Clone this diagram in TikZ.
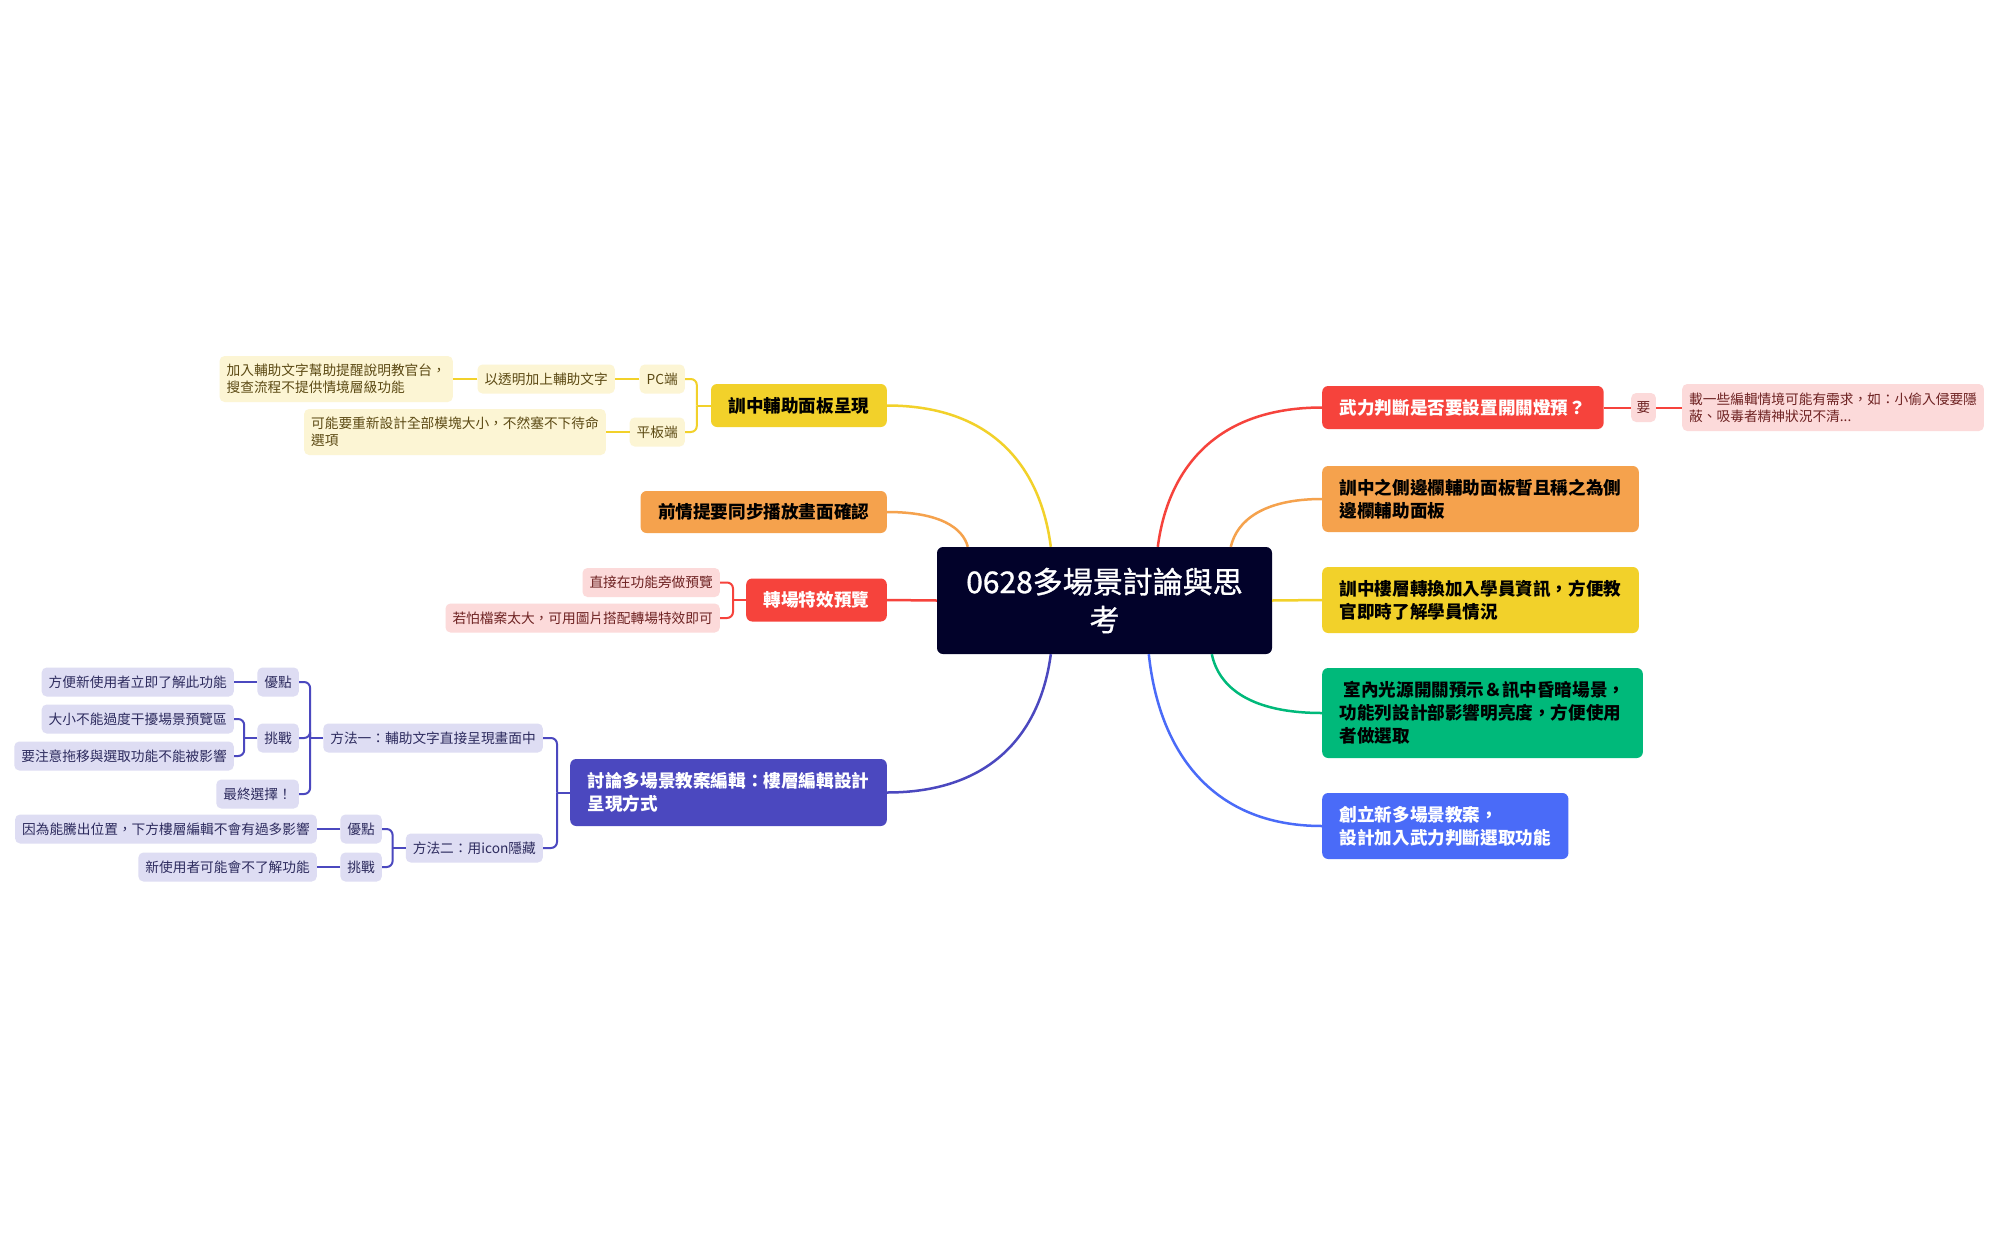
\documentclass[tikz,border=0pt]{standalone}
\usepackage{fontspec}
\setmainfont{Noto Sans CJK TC}
\newfontfamily\centerfont{Noto Sans CJK TC}[FakeBold=1]
\usetikzlibrary{calc}
\definecolor{cdark}{HTML}{02022A}
\definecolor{cred}{HTML}{F6433C}
\definecolor{corange}{HTML}{F5A24D}
\definecolor{cyel}{HTML}{F2D12A}
\definecolor{cgreen}{HTML}{00B97A}
\definecolor{cblue}{HTML}{4A6BF8}
\definecolor{cpur}{HTML}{4B48BF}
\definecolor{lyel}{HTML}{FCF5D4}
\definecolor{lred}{HTML}{FCDADA}
\definecolor{lpur}{HTML}{DEDDF3}
\definecolor{tyel}{HTML}{5C4A14}
\definecolor{tred}{HTML}{6E2222}
\definecolor{tpur}{HTML}{2D2B5E}
\begin{document}
\begin{tikzpicture}[x=1pt,y=-1pt,
  mainbox/.style={rounded corners=6pt, inner xsep=17.5pt, inner ysep=0pt, font=\fontsize{17.6}{23}\selectfont\bfseries, align=left},
  subbox/.style={rounded corners=5pt, inner xsep=7pt, inner ysep=0pt, minimum height=29pt, font=\fontsize{13.7}{17}\selectfont, align=left},
  ysub/.style={subbox, fill=lyel, text=tyel},
  rsub/.style={subbox, fill=lred, text=tred},
  psub/.style={subbox, fill=lpur, text=tpur},
  curve/.style={line width=2.5pt},
  yline/.style={line width=2pt, draw=cyel},
  rline/.style={line width=2pt, draw=cred},
  pline/.style={line width=2pt, draw=cpur},
  brk/.style={rounded corners=6pt}
]
\fill[white] (0,0) rectangle (1999,1237);
\useasboundingbox (0,0) rectangle (1999,1237);

% center
\node[fill=cdark, rounded corners=6pt, minimum width=335pt, minimum height=107pt, inner sep=0pt,
  text=white, align=center, font=\fontsize{30}{38}\centerfont] (c) at (1104.5,600.5) {0628多場景討論與思\\考};

% ---------- left side ----------
\node[mainbox, fill=cyel, anchor=east, minimum height=43pt] (ly) at (887,405.5) {訓中輔助面板呈現};
\node[ysub, anchor=east] (ly1) at (685,379) {PC端};
\node[ysub, anchor=east] (ly2) at (615,379) {以透明加上輔助文字};
\node[ysub, anchor=east, minimum height=46pt] (ly3) at (453,379) {加入輔助文字幫助提醒說明教官台，\\搜查流程不提供情境層級功能};
\node[ysub, anchor=east] (ly4) at (685,432) {平板端};
\node[ysub, anchor=east, minimum height=46pt] (ly5) at (606,432) {可能要重新設計全部模塊大小，不然塞不下待命\\選項};

\node[mainbox, fill=corange, anchor=east, minimum height=42pt] (lo) at (887,512) {前情提要同步播放畫面確認};

\node[mainbox, fill=cred, text=white, anchor=east, minimum height=43pt] (lr) at (887,600) {轉場特效預覽};
\node[rsub, anchor=east] (lr1) at (720,582.5) {直接在功能旁做預覽};
\node[rsub, anchor=east] (lr2) at (720,618) {若怕檔案太大，可用圖片搭配轉場特效即可};

\node[mainbox, fill=cpur, text=white, anchor=east, minimum height=67pt] (lp) at (887,792.5) {討論多場景教案編輯：樓層編輯設計\\呈現方式};
\node[psub, anchor=east] (m1) at (543,738) {方法一：輔助文字直接呈現畫面中};
\node[psub, anchor=east] (m2) at (543,848) {方法二：用icon隱藏};
\node[psub, anchor=east] (a1) at (299,682) {優點};
\node[psub, anchor=east] (a2) at (299,738) {挑戰};
\node[psub, anchor=east] (a3) at (299,794) {最終選擇！};
\node[psub, anchor=east] (t1) at (234,682) {方便新使用者立即了解此功能};
\node[psub, anchor=east] (t2) at (234,719) {大小不能過度干擾場景預覽區};
\node[psub, anchor=east] (t3) at (234,756) {要注意拖移與選取功能不能被影響};
\node[psub, anchor=east] (b1) at (382,829) {優點};
\node[psub, anchor=east] (b2) at (382,867) {挑戰};
\node[psub, anchor=east] (u1) at (317,829) {因為能騰出位置，下方樓層編輯不會有過多影響};
\node[psub, anchor=east] (u2) at (317,867) {新使用者可能會不了解功能};

% ---------- right side ----------
\node[mainbox, fill=cred, text=white, anchor=west, minimum height=43pt] (rr) at (1322,407.5) {武力判斷是否要設置開關燈預？};
\node[rsub, anchor=west, inner xsep=5.5pt] (rr1) at (1631,407.5) {要};
\node[rsub, anchor=west, minimum height=47pt] (rr2) at (1682,407.5) {載一些編輯情境可能有需求，如：小偷入侵要隱\\蔽、吸毒者精神狀況不清...};

\node[mainbox, fill=corange, anchor=west, minimum height=66pt] (ro) at (1322,499) {訓中之側邊欄輔助面板暫且稱之為側\\邊欄輔助面板};
\node[mainbox, fill=cyel, anchor=west, minimum height=66pt] (ry) at (1322,600) {訓中樓層轉換加入學員資訊，方便教\\官即時了解學員情況};
\node[mainbox, fill=cgreen, anchor=west, minimum height=90pt] (rg) at (1322,713) {\ 室內光源開關預示＆訊中昏暗場景，\\功能列設計部影響明亮度，方便使用\\者做選取};
\node[mainbox, fill=cblue, text=white, anchor=west, minimum height=66pt] (rb) at (1322,826) {創立新多場景教案，\\設計加入武力判斷選取功能};

% ---------- main curves ----------
\draw[curve, cred] ($(c.north west)+(221,0)$) .. controls +(10,-77) and +(-107,0) .. (rr.west);
\draw[curve, corange] ($(c.north west)+(294,0)$) .. controls +(6,-26) and +(-59,0) .. (ro.west);
\draw[curve, cyel] (c.east) -- (ry.west);
\draw[curve, cgreen] ($(c.south west)+(275,0)$) .. controls +(7,33) and +(-72,0) .. (rg.west);
\draw[curve, cblue] ($(c.south west)+(212,0)$) .. controls +(10,95) and +(-112,0) .. (rb.west);
\draw[curve, cyel] ($(c.north west)+(114,0)$) .. controls +(-10,-78) and +(107,0) .. (ly.east);
\draw[curve, corange] ($(c.north west)+(31,0)$) .. controls +(-5,-19) and +(53,0) .. (lo.east);
\draw[curve, cred] (c.west) -- (lr.east);
\draw[curve, cpur] ($(c.south west)+(114,0)$) .. controls +(-10,76) and +(107,0) .. (lp.east);

% ---------- yellow branch connectors ----------
\draw[yline] (ly.west) -- ($(ly.west)+(-14,0)$);
\draw[yline, brk] ($(ly.west)+(-14,0)$) |- (ly1.east);
\draw[yline, brk] ($(ly.west)+(-14,0)$) |- (ly4.east);
\draw[yline] (ly1.west) -- (ly2.east);
\draw[yline] (ly2.west) -- (ly3.east);
\draw[yline] (ly4.west) -- (ly5.east);

% ---------- red left connectors ----------
\draw[rline] (lr.west) -- ($(lr.west)+(-13,0)$);
\draw[rline, brk] ($(lr.west)+(-13,0)$) |- (lr1.east);
\draw[rline, brk] ($(lr.west)+(-13,0)$) |- (lr2.east);

% ---------- red right connectors ----------
\draw[rline] (rr.east) -- (rr1.west);
\draw[rline] (rr1.east) -- (rr2.west);

% ---------- purple connectors ----------
\draw[pline] (lp.west) -- ($(lp.west)+(-13,0)$);
\draw[pline, brk] ($(lp.west)+(-13,0)$) |- (m1.east);
\draw[pline, brk] ($(lp.west)+(-13,0)$) |- (m2.east);
\draw[pline] (m1.west) -- ($(m1.west)+(-13,0)$);
\draw[pline, brk] ($(m1.west)+(-13,0)$) |- (a1.east);
\draw[pline, brk] ($(m1.west)+(-13,0)$) |- (a2.east);
\draw[pline, brk] ($(m1.west)+(-13,0)$) |- (a3.east);
\draw[pline] (a1.west) -- (t1.east);
\draw[pline] (a2.west) -- ($(a2.west)+(-13,0)$);
\draw[pline, brk] ($(a2.west)+(-13,0)$) |- (t2.east);
\draw[pline, brk] ($(a2.west)+(-13,0)$) |- (t3.east);
\draw[pline] (m2.west) -- ($(m2.west)+(-13,0)$);
\draw[pline, brk] ($(m2.west)+(-13,0)$) |- (b1.east);
\draw[pline, brk] ($(m2.west)+(-13,0)$) |- (b2.east);
\draw[pline] (b1.west) -- (u1.east);
\draw[pline] (b2.west) -- (u2.east);
\end{tikzpicture}
\end{document}
